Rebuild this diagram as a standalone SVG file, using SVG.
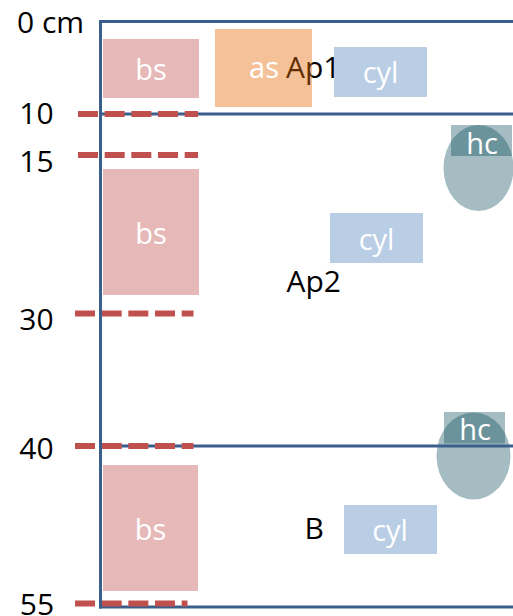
<svg xmlns="http://www.w3.org/2000/svg" width="513" height="616" viewBox="0 0 513 616">
  <style>
    .depth { font-family: "Open Sans", "Liberation Sans", sans-serif; font-size: 30px; fill: #000000; }
    .tag { font-family: "Open Sans", "Liberation Sans", sans-serif; font-size: 29px; fill: #ffffff; text-anchor: middle; }
    .bs { fill: #e6b9b8; }
    .cyl { fill: #b9cde5; }
    .hc { fill: #054856; fill-opacity: 0.36; }
    .frame { stroke: #3b5f8c; stroke-width: 3; fill: none; stroke-linecap: square; }
    .mark { stroke: #c0504d; stroke-width: 6; stroke-dasharray: 20 6.67; fill: none; }
  </style>

  <rect width="513" height="616" fill="#ffffff"/>

  <!-- depth scale -->
  <g id="scale">
    <text class="depth" x="17" y="33">0 cm</text>
    <text class="depth" x="36.5" y="124" text-anchor="middle">10</text>
    <text class="depth" x="36.5" y="171.5" text-anchor="middle">15</text>
    <text class="depth" x="36.5" y="329.5" text-anchor="middle">30</text>
    <text class="depth" x="36.5" y="459" text-anchor="middle">40</text>
    <text class="depth" x="37" y="614.5" text-anchor="middle">55</text>
  </g>

  <!-- horizon labels -->
  <g id="horizon-Ap1">
    <text class="depth" x="286" y="78">Ap1</text>
  </g>
  <g id="horizon-Ap2">
    <text class="depth" x="286.5" y="291.5">Ap2</text>
  </g>
  <g id="horizon-B">
    <text class="depth" x="304.5" y="538.5">B</text>
  </g>

  <!-- sample boxes -->
  <g id="bs-1">
    <rect class="bs" x="103" y="39" width="96" height="59"/>
    <text class="tag" x="151" y="80">bs</text>
  </g>
  <g id="bs-2">
    <rect class="bs" x="103" y="169" width="96" height="126"/>
    <text class="tag" x="151" y="243.5">bs</text>
  </g>
  <g id="bs-3">
    <rect class="bs" x="103" y="465" width="95" height="126"/>
    <text class="tag" x="150.5" y="540">bs</text>
  </g>

  <g id="as-1">
    <rect x="215" y="29" width="97" height="78" fill="#e46c0a" fill-opacity="0.42"/>
    <text class="tag" x="264" y="78">as</text>
  </g>

  <g id="cyl-1">
    <rect class="cyl" x="334" y="47" width="93" height="50"/>
    <text class="tag" x="380.5" y="83">cyl</text>
  </g>
  <g id="cyl-2">
    <rect class="cyl" x="330" y="213" width="93" height="50"/>
    <text class="tag" x="376.5" y="249.5">cyl</text>
  </g>
  <g id="cyl-3">
    <rect class="cyl" x="344" y="505" width="93" height="49"/>
    <text class="tag" x="390" y="541">cyl</text>
  </g>

  <g id="hc-1">
    <ellipse class="hc" cx="478.5" cy="168" rx="35" ry="43"/>
    <rect class="hc" x="451" y="125" width="61" height="31"/>
    <text class="tag" x="482" y="153.5">hc</text>
  </g>
  <g id="hc-2">
    <ellipse class="hc" cx="473.5" cy="456" rx="37" ry="43.5"/>
    <rect class="hc" x="444" y="412" width="61" height="31.5"/>
    <text class="tag" x="475" y="440">hc</text>
  </g>

  <!-- profile frame and horizon boundaries -->
  <g id="connectors">
    <line class="frame" x1="100.5" y1="21.5" x2="515" y2="21.5"/>
    <line class="frame" x1="100.5" y1="114" x2="515" y2="114"/>
    <line class="frame" x1="100.5" y1="446" x2="515" y2="446"/>
    <line class="frame" x1="100.5" y1="607" x2="515" y2="607"/>
    <line class="mark" x1="78" y1="114" x2="198" y2="114"/>
    <line class="mark" x1="78" y1="155" x2="198" y2="155"/>
    <line class="mark" x1="75" y1="313.5" x2="193.5" y2="313.5"/>
    <line class="mark" x1="75" y1="446" x2="193.5" y2="446"/>
    <line class="mark" x1="75" y1="603.5" x2="187.5" y2="603.5"/>
    <line class="frame" x1="100.5" y1="21.5" x2="100.5" y2="607"/>
  </g>
</svg>
